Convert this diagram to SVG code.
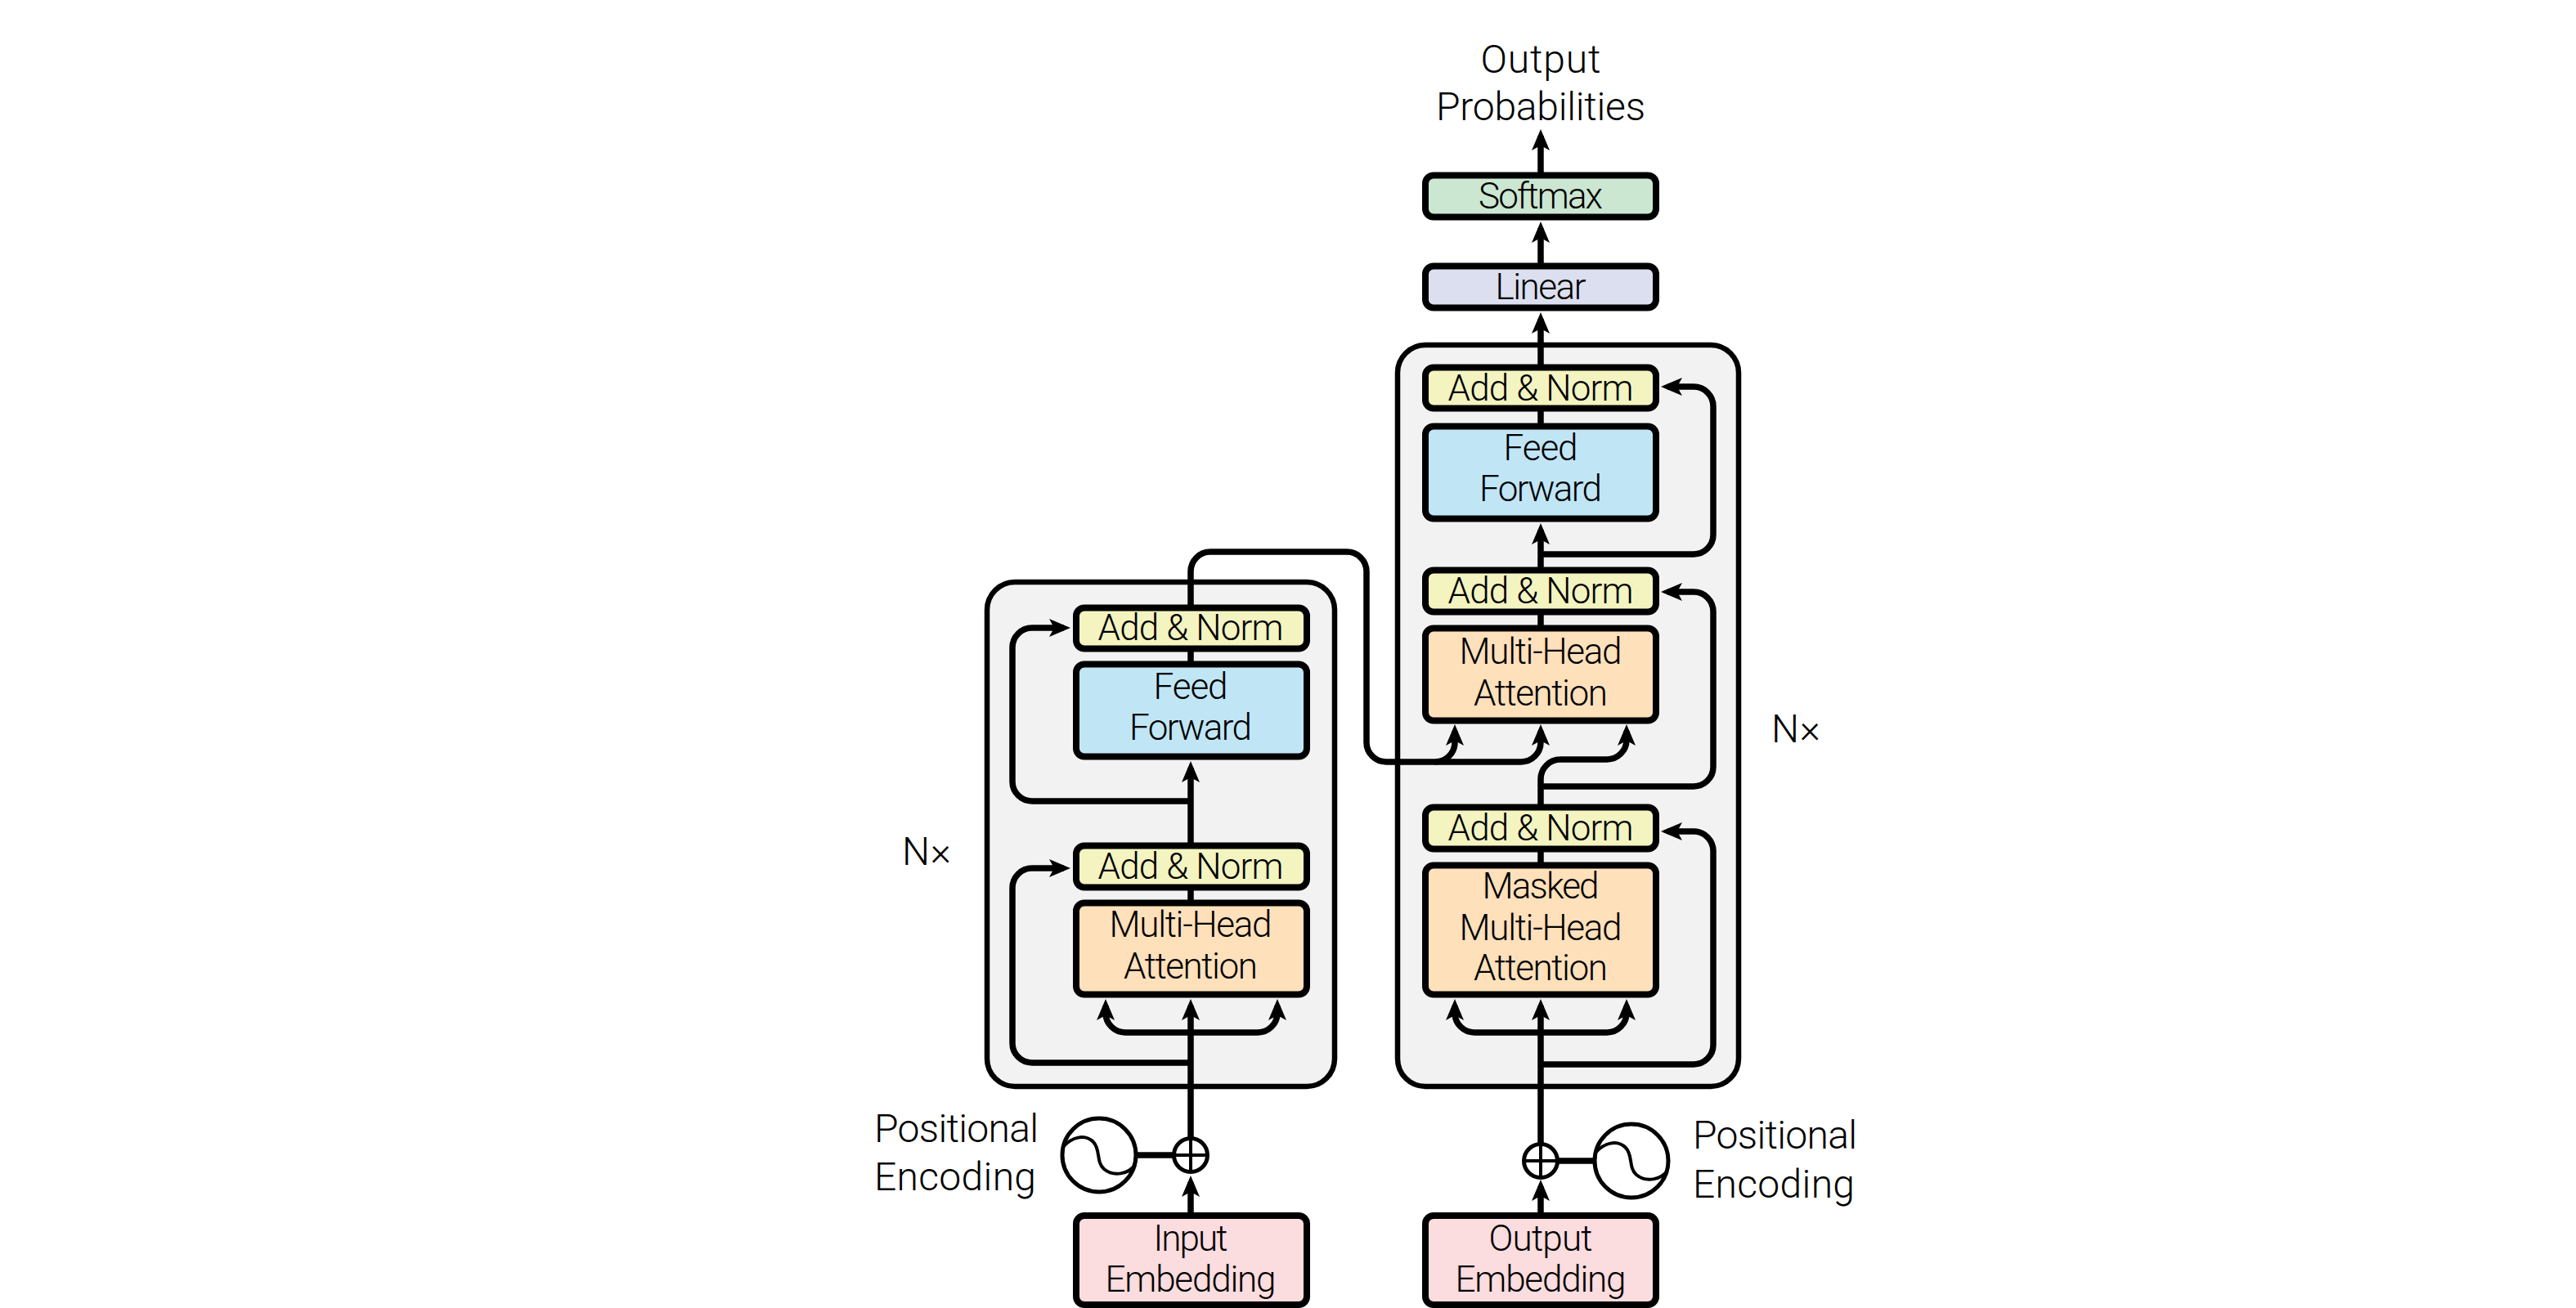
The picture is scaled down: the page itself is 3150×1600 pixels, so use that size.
<svg xmlns="http://www.w3.org/2000/svg" width="3150" height="1600" viewBox="0 0 3150 1600">
<style>
text{font-family:"Roboto","Liberation Sans",sans-serif;font-weight:300;font-size:44px;fill:#000;text-anchor:middle}
.big{font-size:48px}
.l{text-anchor:start}
.n{stroke:#000;stroke-width:8}
.c{fill:#f2f2f2;stroke:#000;stroke-width:6.5}
.y{fill:#f3f4c0}.b{fill:#c0e6f6}.o{fill:#fee0bb}.p{fill:#fbdcdf}.g{fill:#cbe6d1}.v{fill:#dcdfef}
.w{fill:none;stroke:#000;stroke-width:7.5}
.a{marker-end:url(#ah)}
.s{fill:#fff;stroke:#000;stroke-width:5}
.t{fill:none;stroke:#000;stroke-width:4}
</style>
<defs>
<marker id="ah" markerUnits="userSpaceOnUse" markerWidth="28" markerHeight="24" viewBox="0 -12 28 24" refX="18" refY="0" orient="auto"><path d="M26,0 L0,11 L6,0 L0,-11 Z" fill="#000"/></marker>
</defs>
<g id="encoder-stack"><rect class="c" x="1207" y="712" width="425" height="617" rx="34"/></g>
<g id="decoder-stack"><rect class="c" x="1709" y="422" width="417" height="907" rx="34"/></g>
<g id="connectors">
<path class="w a" d="M1456,1392V1230"/>
<path class="w a" d="M1456,1263H1376A24,24 0 0 1 1352,1239V1230"/>
<path class="w a" d="M1456,1263H1538A24,24 0 0 0 1562,1239V1230"/>
<path class="w a" d="M1456,1300H1262A24,24 0 0 1 1238,1276V1086A24,24 0 0 1 1262,1062H1301"/>
<path class="w" d="M1456,1103V1087"/>
<path class="w a" d="M1456,1033V939"/>
<path class="w a" d="M1456,980H1262A24,24 0 0 1 1238,956V792A24,24 0 0 1 1262,768H1301"/>
<path class="w" d="M1456,811V795"/>
<path class="w a" d="M1456,742V699A24,24 0 0 1 1480,675H1647A24,24 0 0 1 1671,699V908A24,24 0 0 0 1695,932H1860A24,24 0 0 0 1884,908V894"/>
<path class="w a" d="M1755,932A24,24 0 0 0 1779,908V894"/>
<path class="w a" d="M1884,986V953A24,24 0 0 1 1908,929H1965A24,24 0 0 0 1989,905V894"/>
<path class="w a" d="M1884,962H2071A24,24 0 0 0 2095,938V748A24,24 0 0 0 2071,724H2039"/>
<path class="w a" d="M1884,696V648"/>
<path class="w a" d="M1884,678H2071A24,24 0 0 0 2095,654V497A24,24 0 0 0 2071,473H2039"/>
<path class="w" d="M1884,767V750"/>
<path class="w" d="M1884,520V501"/>
<path class="w a" d="M1884,448V390"/>
<path class="w a" d="M1884,324V279"/>
<path class="w a" d="M1884,213V166"/>
<path class="w" d="M1884,1057V1040"/>
<path class="w a" d="M1884,1399V1230"/>
<path class="w a" d="M1884,1263H1803A24,24 0 0 1 1779,1239V1230"/>
<path class="w a" d="M1884,1263H1965A24,24 0 0 0 1989,1239V1230"/>
<path class="w a" d="M1884,1302H2071A24,24 0 0 0 2095,1278V1041A24,24 0 0 0 2071,1017H2039"/>
<path class="w" d="M1390,1413H1436"/>
<path class="w a" d="M1456,1485V1446"/>
<path class="w" d="M1905,1420H1950"/>
<path class="w a" d="M1884,1485V1451"/>
</g>
<g id="enc-add-norm-2"><rect class="n y" x="1316" y="743.5" width="282" height="50" rx="10"/><text x="1456" y="783" textLength="227">Add &amp; Norm</text></g>
<g id="enc-feed-forward"><rect class="n b" x="1316" y="812.5" width="282" height="113" rx="10"/><text x="1456" y="855" textLength="91">Feed</text><text x="1456" y="905" textLength="150">Forward</text></g>
<g id="enc-add-norm-1"><rect class="n y" x="1316" y="1034.5" width="282" height="51" rx="10"/><text x="1456" y="1075" textLength="227">Add &amp; Norm</text></g>
<g id="enc-attention"><rect class="n o" x="1316" y="1104.5" width="282" height="112" rx="10"/><text x="1456" y="1146" textLength="199">Multi-Head</text><text x="1456" y="1197" textLength="164">Attention</text></g>
<g id="input-embedding"><rect class="n p" x="1316" y="1487" width="282" height="109" rx="10"/><text x="1456" y="1530" textLength="91">Input</text><text x="1456" y="1580" textLength="209">Embedding</text></g>
<g id="dec-softmax"><rect class="n g" x="1743" y="214.5" width="282" height="51" rx="10"/><text x="1884" y="255" textLength="152">Softmax</text></g>
<g id="dec-linear"><rect class="n v" x="1743" y="325.5" width="282" height="51" rx="10"/><text x="1884" y="366" textLength="111">Linear</text></g>
<g id="dec-add-norm-3"><rect class="n y" x="1743" y="449.5" width="282" height="50" rx="10"/><text x="1884" y="490" textLength="227">Add &amp; Norm</text></g>
<g id="dec-feed-forward"><rect class="n b" x="1743" y="521.5" width="282" height="113" rx="10"/><text x="1884" y="563" textLength="91">Feed</text><text x="1884" y="613" textLength="150">Forward</text></g>
<g id="dec-add-norm-2"><rect class="n y" x="1743" y="697.5" width="282" height="51" rx="10"/><text x="1884" y="738" textLength="227">Add &amp; Norm</text></g>
<g id="dec-attention"><rect class="n o" x="1743" y="768.5" width="282" height="113" rx="10"/><text x="1884" y="812" textLength="199">Multi-Head</text><text x="1884" y="863" textLength="164">Attention</text></g>
<g id="dec-add-norm-1"><rect class="n y" x="1743" y="987.5" width="282" height="51" rx="10"/><text x="1884" y="1028" textLength="227">Add &amp; Norm</text></g>
<g id="dec-masked-attention"><rect class="n o" x="1743" y="1058.5" width="282" height="158" rx="10"/><text x="1884" y="1099" textLength="143">Masked</text><text x="1884" y="1150" textLength="199">Multi-Head</text><text x="1884" y="1199" textLength="164">Attention</text></g>
<g id="output-embedding"><rect class="n p" x="1743" y="1487" width="282" height="109" rx="10"/><text x="1884" y="1530" textLength="127">Output</text><text x="1884" y="1580" textLength="209">Embedding</text></g>
<g id="enc-add"><circle class="s" cx="1456" cy="1413" r="20.5"/><path class="t" d="M1438,1413H1474M1456,1395V1431"/></g>
<g id="enc-sine"><circle class="s" cx="1344" cy="1413" r="45"/><path class="t" d="M1301,1402C1310,1392 1326,1386 1337,1397C1346,1406 1340,1421 1350,1430C1362,1440 1380,1436 1388,1425"/></g>
<g id="dec-add"><circle class="s" cx="1884" cy="1420" r="20.5"/><path class="t" d="M1866,1420H1902M1884,1402V1438"/></g>
<g id="dec-sine"><circle class="s" cx="1995" cy="1420" r="45"/><path class="t" d="M1952,1409C1961,1399 1977,1393 1988,1404C1997,1413 1991,1428 2001,1437C2013,1447 2031,1443 2039,1432"/></g>
<g id="labels">
<text class="big" x="1884" y="89" textLength="147">Output</text>
<text class="big" x="1884" y="147" textLength="256">Probabilities</text>
<text class="big l" x="1103" y="1058" textLength="60">N×</text>
<text class="big l" x="2166" y="908" textLength="60">N×</text>
<text class="big l" x="1069" y="1397" textLength="201">Positional</text>
<text class="big l" x="1069" y="1456" textLength="198">Encoding</text>
<text class="big l" x="2070" y="1405" textLength="201">Positional</text>
<text class="big l" x="2070" y="1465" textLength="198">Encoding</text>
</g>
</svg>
